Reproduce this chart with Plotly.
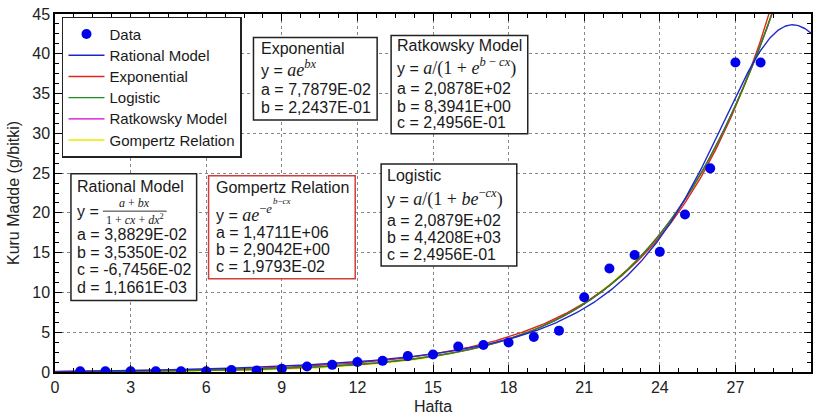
import numpy as np
import plotly.graph_objects as go

# ---- data ----
weeks = list(range(1, 29))
dry_matter = [0.1, 0.1, 0.1, 0.1, 0.1, 0.1, 0.25, 0.2, 0.4, 0.7, 0.9, 1.25, 1.4, 2.0,
              2.2, 3.2, 3.4, 3.7, 4.4, 5.2, 9.4, 13.0, 14.7, 15.1, 19.8, 25.6, 38.9, 38.9]

# model parameters (as printed in the chart)
rational_p = [3.8829e-02, 3.5350e-02, -6.7456e-02, 1.1661e-03]
exponential_p = [7.7879e-02, 2.2437e-01]
logistic_p = [2.0879e+02, 4.4208e+03, 2.4956e-01]
ratkowsky_p = [2.0878e+02, 8.3941e+00, 2.4956e-01]
gompertz_p = [1.4711e+06, 2.9042e+00, 1.9793e-02]

x_ticks = list(range(0, 31, 3))
y_ticks = list(range(0, 46, 5))

xs = np.linspace(0, 30, 601)
a, b, c, d = rational_p
y_rat = (a + b * xs) / (1 + c * xs + d * xs ** 2)
a, b = exponential_p
y_exp = a * np.exp(b * xs)
a, b, c = logistic_p
y_log = a / (1 + b * np.exp(-c * xs))
a, b, c = ratkowsky_p
y_rtk = a / (1 + np.exp(b - c * xs))
a, b, c = gompertz_p
y_gom = a * np.exp(-np.exp(b - c * xs))


def lname(s):
    return f"<span style=\"font-size:15px\">{s}</span>"


fig = go.Figure()
lw = 1.4
fig.add_trace(go.Scatter(x=xs, y=y_gom, mode="lines", name=lname("Gompertz Relation"),
                         line=dict(color="rgb(240,235,0)", width=lw), legendrank=6))
fig.add_trace(go.Scatter(x=xs, y=y_rtk, mode="lines", name=lname("Ratkowsky Model"),
                         line=dict(color="rgb(210,0,210)", width=lw), legendrank=5))
fig.add_trace(go.Scatter(x=xs, y=y_exp, mode="lines", name=lname("Exponential"),
                         line=dict(color="rgb(220,40,30)", width=lw), legendrank=3))
fig.add_trace(go.Scatter(x=xs, y=y_log, mode="lines", name=lname("Logistic"),
                         line=dict(color="rgb(30,140,30)", width=lw), legendrank=4))
fig.add_trace(go.Scatter(x=xs, y=y_rat, mode="lines", name=lname("Rational Model"),
                         line=dict(color="rgb(30,40,200)", width=lw), legendrank=2))
fig.add_trace(go.Scatter(x=weeks, y=dry_matter, mode="markers", name=lname("Data"),
                         marker=dict(color="rgb(0,0,235)", size=10), legendrank=1))

W, H = 819, 419
L, R, T, B = 55, 813, 10, 375


def px(xp):
    return (xp - L) / (R - L)


def py(yp):
    return (B - yp) / (B - T)


shapes = []
annos = []
TXT = dict(family="Arial", size=16, color="#1a1a1a")
SERIF = "font-family:'Liberation Serif';font-size:18px"


def box(x0, y0, x1, y1, color="#222"):
    shapes.append(dict(type="rect", xref="paper", yref="paper", x0=px(x0), x1=px(x1),
                       y0=py(y1), y1=py(y0), line=dict(color=color, width=1.5),
                       fillcolor="white", layer="above"))


def line(x, y, text, size=16, xanchor="left"):
    annos.append(dict(xref="paper", yref="paper", x=px(x), y=py(y), text=text,
                      showarrow=False, xanchor=xanchor, yanchor="middle",
                      font=dict(TXT, size=size)))


# Exponential
box(254, 34, 378, 118)
line(260, 45, "Exponential")
line(260, 66, f"y = <span style=\"{SERIF}\"><i>ae</i><sup><i>bx</i></sup></span>")
line(260, 87, "a = 7,7879E-02")
line(260, 105, "b = 2,2437E-01")

# Ratkowsky
box(392, 32, 529, 132)
line(396, 42, "Ratkowsky Model")
line(396, 64, f"y = <span style=\"{SERIF}\"><i>a</i>/(1 + <i>e</i><sup><i>b</i> − <i>cx</i></sup>)</span>")
line(396, 86, "a = 2,0878E+02")
line(396, 104, "b = 8,3941E+00")
line(396, 121, "c = 2,4956E-01")

# Rational
box(71, 173, 197, 302)
line(75, 186, "Rational Model")
line(75, 211, "y =")
annos.append(dict(xref="paper", yref="paper", x=px(135), y=py(203),
                  text="<span style=\"font-family:'Liberation Serif'\"><i>a</i> + <i>bx</i></span>",
                  showarrow=False, xanchor="center", yanchor="middle",
                  font=dict(TXT, size=12)))
annos.append(dict(xref="paper", yref="paper", x=px(135), y=py(220),
                  text="<span style=\"font-family:'Liberation Serif'\">1 + <i>cx</i> + <i>dx</i><sup>2</sup></span>",
                  showarrow=False, xanchor="center", yanchor="middle",
                  font=dict(TXT, size=12)))
shapes.append(dict(type="line", xref="paper", yref="paper", x0=px(103), x1=px(167),
                   y0=py(211), y1=py(211), line=dict(color="#333", width=1)))
line(75, 235, "a = 3,8829E-02")
line(75, 253, "b = 3,5350E-02")
line(75, 271, "c = -6,7456E-02")
line(75, 289, "d = 1,1661E-03")

# Gompertz
box(209, 175, 356, 280, color="rgb(210,60,60)")
line(214, 187, "Gompertz Relation")
line(214, 213, f"y = <span style=\"{SERIF}\"><i>ae</i><sup>−<i>e</i></sup></span>")
annos.append(dict(xref="paper", yref="paper", x=px(272), y=py(201),
                  text="<span style=\"font-family:'Liberation Serif'\"><i>b</i>−<i>cx</i></span>",
                  showarrow=False, xanchor="left", yanchor="middle",
                  font=dict(TXT, size=9)))
line(214, 233, "a = 1,4711E+06")
line(214, 250, "b = 2,9042E+00")
line(214, 267, "c = 1,9793E-02")

# Logistic
box(382, 163, 518, 267)
line(386, 175, "Logistic")
line(386, 198, f"y = <span style=\"{SERIF}\"><i>a</i>/(1 + <i>be</i><sup>−<i>cx</i></sup>)</span>")
line(386, 221, "a = 2,0879E+02")
line(386, 238, "b = 4,4208E+03")
line(386, 255, "c = 2,4956E-01")

axis_common = dict(
    showline=True, linecolor="black", linewidth=1.5, mirror="ticks",
    ticks="inside", ticklen=7, tickwidth=1, tickcolor="black",
    showgrid=True, gridcolor="#888", griddash="dot", gridwidth=1,
    zeroline=False, tickfont=dict(family="Arial", size=16, color="#222"),
)

fig.update_xaxes(range=[0, 30], tickvals=x_ticks, title=dict(text="Hafta", standoff=6,
                 font=dict(family="Arial", size=16, color="#222")),
                 minor=dict(dtick=0.75, ticks="inside", ticklen=4, tickcolor="black", showgrid=False),
                 **axis_common)
fig.update_yaxes(range=[0, 45], tickvals=y_ticks, title=dict(text="Kuru Madde (g/bitki)", standoff=9,
                 font=dict(family="Arial", size=16, color="#222")),
                 minor=dict(dtick=1.25, ticks="inside", ticklen=4, tickcolor="black", showgrid=False),
                 **axis_common)

fig.update_layout(
    width=W, height=H,
    margin=dict(l=L, r=W - R, t=T, b=H - B, pad=0),
    paper_bgcolor="white", plot_bgcolor="white",
    shapes=shapes, annotations=annos,
    showlegend=True,
    legend=dict(x=px(62), y=py(13), xanchor="left", yanchor="top",
                bgcolor="white", bordercolor="#222", borderwidth=1.5,
                font=dict(family="Arial", size=14, color="#1a1a1a"),
                itemwidth=36, tracegroupgap=0),
)

fig.write_html("out.html")
